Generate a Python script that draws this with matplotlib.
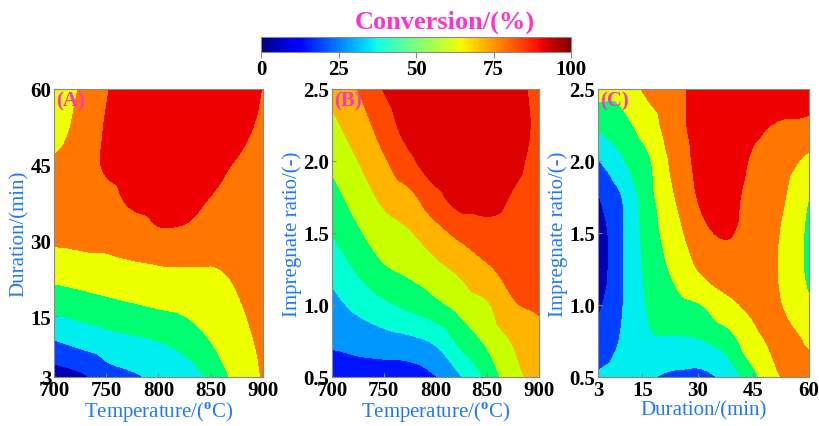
import numpy as np
import matplotlib
import matplotlib.pyplot as plt
import matplotlib.tri as mtri
from matplotlib.colors import Normalize

plt.rcParams['font.family'] = ['Liberation Serif', 'DejaVu Serif']
plt.rcParams['font.weight'] = 'bold'
plt.rcParams['mathtext.fontset'] = 'custom'
plt.rcParams['mathtext.rm'] = 'Liberation Serif:bold'

# axes values
temperature = [700, 725, 750, 775, 800, 825, 850, 875, 900]
duration = [3, 10, 17, 24, 31, 38, 45, 52, 60]
ratio = [0.5, 0.75, 1.0, 1.25, 1.5, 1.75, 2.0, 2.25, 2.5]

# (A) conversion, one list per temperature, read along duration
conv_a_cols = [
    [6, 27, 46, 61, 73, 76, 72, 64, 55],
    [11, 32, 49, 63, 74, 78, 77, 74, 71],
    [22, 36, 52, 65, 74, 80, 85.5, 85, 83],
    [26, 39, 54.6, 66.7, 77, 86, 89, 90, 90],
    [31, 42, 57, 68, 81.8, 88, 90, 92, 93],
    [34, 47, 59, 68.6, 81.5, 87.5, 89.5, 91, 92],
    [45, 56, 62.6, 69, 76, 83.5, 86, 88, 90],
    [60, 64, 68.5, 72, 76, 80, 83.5, 86, 88],
    [71, 73, 75, 77, 78, 80, 81, 82.5, 83.8],
]

# (B) conversion, one list per temperature, read along impregnate ratio
conv_b_cols = [
    [16, 21.5, 26.9, 33.2, 40.4, 46.3, 52, 57.7, 63.4],
    [14.8, 23.7, 32.6, 41.4, 48.5, 54.4, 59.9, 65.1, 70.2],
    [14.5, 25.7, 38, 48.7, 55.6, 62.2, 68.7, 74.5, 80.5],
    [14.6, 27.6, 42.4, 52.3, 59.2, 67.4, 77.8, 85, 88],
    [19.5, 31.7, 47.5, 57, 66.5, 76.8, 87, 89, 90],
    [29.7, 43, 53.7, 62.4, 72.6, 85, 88, 90, 91],
    [42.6, 52, 58.9, 68.7, 76.2, 83.8, 86, 88, 88.5],
    [56.5, 60.8, 69, 72.9, 76, 79.3, 82, 83, 82.5],
    [64, 67, 71, 73, 75, 76.5, 77.5, 78.5, 78],
]

# (C) conversion, one list per duration, read along impregnate ratio
conv_c_cols = [
    [30, 19.9, 11, 5, 5, 13, 27, 44, 63],
    [33, 30, 28.5, 28.3, 28.3, 29.5, 41.3, 52.3, 62],
    [29, 40, 44.1, 46.9, 49.6, 52.3, 55.1, 64.1, 74],
    [25, 40, 51.7, 59.3, 64.8, 70.5, 75, 79, 80],
    [24, 41.5, 56, 71.8, 80.5, 86, 88, 89, 89],
    [33, 49, 66.9, 77, 85, 87, 89, 90, 91],
    [52, 66.3, 72, 74.7, 77.3, 80, 82.5, 86, 88],
    [69.8, 72, 70.5, 69.2, 69.9, 73, 77, 83.3, 88],
    [73, 69, 58, 53, 53, 56, 66, 82, 88],
]

levels_a = [0, 14, 28, 42, 56, 70, 84, 100]
levels_b = [0, 20, 30, 40, 50, 60, 70, 80, 100]
levels_c = [0, 14, 28, 42, 56, 70, 84, 100]

colors_a = ['#0000b4', '#0040ff', '#00eeee', '#00ff70', '#eeff00', '#ff7700', '#ee0000']
colors_b = ['#0014ff', '#0096ff', '#00ffd2', '#00ff6e', '#c8ff00', '#ffb400', '#ff4800', '#dc0000']
colors_c = colors_a

label_blue = '#1f78ff'
label_pink = '#ff33cc'
frame_grey = '#888888'

fig = plt.figure(figsize=(8.19, 4.27), dpi=100)

ax_a = fig.add_axes([0.0659, 0.1148, 0.2552, 0.6745])
ax_b = fig.add_axes([0.4054, 0.1148, 0.2527, 0.6745])
ax_c = fig.add_axes([0.7302, 0.1148, 0.2576, 0.6745])


def draw_panel(ax, xs, ys, cols, levels, colors, letter):
    z = np.array(cols, dtype=float).T
    # smooth the surface on a unit grid, then put it back on the data axes
    ix, iy = np.meshgrid(np.arange(len(xs)), np.arange(len(ys)))
    tri = mtri.Triangulation(ix.ravel(), iy.ravel())
    interp = mtri.CubicTriInterpolator(tri, z.ravel(), kind='geom')
    refiner = mtri.UniformTriRefiner(tri)
    fine_tri, fine_z = refiner.refine_field(z.ravel(), triinterpolator=interp, subdiv=3)
    fx = np.interp(fine_tri.x, np.arange(len(xs)), xs)
    fy = np.interp(fine_tri.y, np.arange(len(ys)), ys)
    data_tri = mtri.Triangulation(fx, fy, fine_tri.triangles)
    fine_z = np.clip(fine_z, levels[0] + 0.01, levels[-1] - 0.01)
    ax.tricontourf(data_tri, fine_z, levels=levels, colors=colors)
    ax.set_xlim(xs[0], xs[-1])
    ax.set_ylim(ys[0], ys[-1])
    ax.tick_params(direction='in', length=3, color=frame_grey,
                   labelsize=15, pad=2)
    for sp in ax.spines.values():
        sp.set_color(frame_grey)
        sp.set_linewidth(0.8)
    ax.text(0.01, 0.995, letter, transform=ax.transAxes, ha='left', va='top',
            color=label_pink, fontsize=15, fontweight='bold')


draw_panel(ax_a, temperature, duration, conv_a_cols, levels_a, colors_a, '(A)')
ax_a.set_xticks([700, 750, 800, 850, 900])
ax_a.set_yticks([3, 15, 30, 45, 60])
ax_a.set_xlabel('Temperature/($^{\\rm o}$C)', color=label_blue, fontsize=15, labelpad=0)
ax_a.set_ylabel('Duration/(min)', color=label_blue, fontsize=15, labelpad=1)

draw_panel(ax_b, temperature, ratio, conv_b_cols, levels_b, colors_b, '(B)')
ax_b.set_xticks([700, 750, 800, 850, 900])
ax_b.set_yticks([0.5, 1.0, 1.5, 2.0, 2.5])
ax_b.set_yticklabels(['0.5', '1.0', '1.5', '2.0', '2.5'])
ax_b.set_xlabel('Temperature/($^{\\rm o}$C)', color=label_blue, fontsize=15, labelpad=0)
ax_b.set_ylabel('Impregnate ratio/(-)', color=label_blue, fontsize=15, labelpad=1)

draw_panel(ax_c, duration, ratio, conv_c_cols, levels_c, colors_c, '(C)')
ax_c.set_xticks([3, 15, 30, 45, 60])
ax_c.set_yticks([0.5, 1.0, 1.5, 2.0, 2.5])
ax_c.set_yticklabels(['0.5', '1.0', '1.5', '2.0', '2.5'])
ax_c.set_xlabel('Duration/(min)', color=label_blue, fontsize=15, labelpad=0)
ax_c.set_ylabel('Impregnate ratio/(-)', color=label_blue, fontsize=15, labelpad=1)

for ax in (ax_a, ax_b, ax_c):
    for lab in ax.get_xticklabels() + ax.get_yticklabels():
        lab.set_fontweight('bold')

# colour bar
cax = fig.add_axes([0.3187, 0.8759, 0.3785, 0.0351])
sm = matplotlib.cm.ScalarMappable(norm=Normalize(0, 100), cmap='jet')
cb = fig.colorbar(sm, cax=cax, orientation='horizontal', ticks=[0, 25, 50, 75, 100])
cb.outline.set_linewidth(0.8)
cb.outline.set_edgecolor(frame_grey)
cax.tick_params(direction='out', length=4, color=frame_grey, labelsize=15, pad=1)
for lab in cax.get_xticklabels():
    lab.set_fontweight('bold')
fig.text(0.543, 0.948, 'Conversion/(%)', ha='center', va='center',
         color=label_pink, fontsize=19, fontweight='bold')

fig.savefig('out.png', dpi=100)
